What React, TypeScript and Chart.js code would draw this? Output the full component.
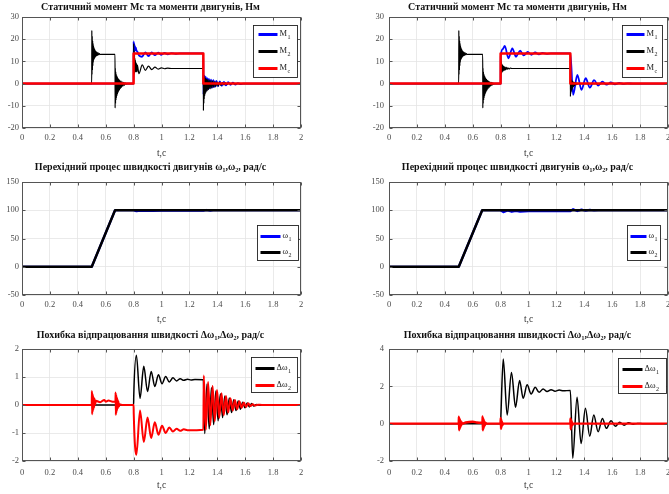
import React, { useEffect, useRef } from "react";
import { Chart, registerables } from "chart.js";
Chart.register(...registerables);

type P = [number, number];

// ---------- axes / text ----------
const xTickValues = [0, 0.2, 0.4, 0.6, 0.8, 1, 1.2, 1.4, 1.6, 1.8, 2];
const yTicksTorque = [-20, -10, 0, 10, 20, 30];
const yTicksSpeed = [-50, 0, 50, 100, 150];
const yTicksErrLeft = [-2, -1, 0, 1, 2];
const yTicksErrRight = [-2, 0, 2, 4];

const titleTorque = "Статичний момент Мс та моменти двигунів, Нм";
const titleSpeed = "Перехідний процес швидкості двигунів ω₁,ω₂, рад/с";
const titleErr = "Похибка відпрацювання швидкості Δω₁,Δω₂, рад/с";
const xAxisLabel = "t,c";

const legendTorque: [string, string][] = [["M", "1"], ["M", "2"], ["M", "c"]];
const legendSpeed: [string, string][] = [["ω", "1"], ["ω", "2"]];
const legendErr: [string, string][] = [["Δω", "1"], ["Δω", "2"]];

// ---------- row 1 : torques ----------
const mcLeft: P[] = [[0, 0], [0.8, 0], [0.8, 13.6], [1.3, 13.6], [1.3, 0], [2, 0]];
const mcRight: P[] = [[0, 0], [0.8, 0], [0.8, 13.6], [1.3, 13.6], [1.3, 0], [2, 0]];

const m1Left: P[] = [
  [0, 0], [0.8, 0], [0.8005, 19], [0.802, 14], [0.8035, 18.2], [0.805, 14.5], [0.807, 17.4], [0.809, 14.8],
  [0.811, 16.8], [0.813, 15], [0.816, 16.2], [0.82, 15], [0.828, 14.3], [0.84, 12.6], [0.86, 12.1],
  [0.884, 14.1], [0.907, 12.4], [0.93, 14], [0.953, 12.8], [0.976, 13.9], [0.999, 13], [1.022, 13.8],
  [1.045, 13.2], [1.07, 13.7], [1.1, 13.45], [1.13, 13.6], [1.3, 13.6],
  [1.301, -5], [1.304, 4], [1.307, -4.2], [1.31, 3.5], [1.314, -3.6], [1.318, 3], [1.323, -3], [1.328, 2.5],
  [1.334, -2.5], [1.34, 2.1], [1.347, -2.1], [1.355, 1.8], [1.363, -1.8], [1.372, 1.5], [1.382, -1.5],
  [1.393, 1.2], [1.405, -1.2], [1.418, 1], [1.432, -1], [1.447, 0.8], [1.462, -0.8], [1.478, 0.6],
  [1.495, -0.6], [1.512, 0.4], [1.53, -0.4], [1.548, 0.2], [1.566, -0.2], [1.585, 0], [2, 0],
];
const m2Left: P[] = [
  [0, 0], [0.5, 0], [0.5005, 24], [0.502, 4], [0.5035, 21.5], [0.505, 6], [0.5065, 19.5], [0.508, 8],
  [0.5095, 18.2], [0.511, 9.5], [0.5125, 17.2], [0.514, 10.5], [0.5155, 16.4], [0.517, 11], [0.519, 15.8],
  [0.521, 11.5], [0.523, 15.2], [0.525, 11.9], [0.527, 14.8], [0.529, 12.2], [0.532, 14.4], [0.535, 12.5],
  [0.538, 14.1], [0.541, 12.7], [0.545, 13.8], [0.55, 12.9], [0.555, 13.5], [0.56, 13.1], [0.58, 13.2],
  [0.667, 13.2], [0.6675, -11], [0.669, 7], [0.6705, -9], [0.672, 5.5], [0.6735, -7.5], [0.675, 4.5],
  [0.6765, -6.5], [0.678, 3.8], [0.68, -5.6], [0.682, 3.2], [0.684, -4.8], [0.686, 2.7], [0.688, -4.1],
  [0.69, 2.2], [0.693, -3.4], [0.696, 1.8], [0.699, -2.8], [0.702, 1.4], [0.706, -2.2], [0.71, 1.1],
  [0.714, -1.7], [0.718, 0.8], [0.723, -1.2], [0.728, 0.6], [0.733, -0.8], [0.738, 0.3], [0.745, -0.3],
  [0.75, 0], [0.8, 0],
  [0.8005, 18], [0.802, 4], [0.8035, 15], [0.805, 4.5], [0.8065, 13], [0.808, 5], [0.8095, 11.5],
  [0.811, 5.2], [0.813, 10.5], [0.815, 5.5], [0.817, 9.5], [0.819, 5.5], [0.821, 9], [0.824, 5.3],
  [0.827, 8.3], [0.838, 4.5], [0.862, 8.4], [0.884, 6], [0.907, 7.9], [0.93, 6.3], [0.953, 7.4],
  [0.976, 6.5], [0.999, 7.1], [1.022, 6.7], [1.045, 6.95], [1.07, 6.8], [1.3, 6.8],
  [1.3005, -12.2], [1.302, 4], [1.3035, -9], [1.305, 3.5], [1.3065, -7], [1.308, 3], [1.31, -5.5],
  [1.312, 2.6], [1.314, -4.5], [1.317, 2.3], [1.32, -3.8], [1.324, 2], [1.328, -3.2], [1.332, 1.8],
  [1.337, -2.7], [1.342, 1.6], [1.348, -2.3], [1.354, 1.4], [1.36, -2], [1.367, 1.2], [1.374, -1.7],
  [1.382, 1], [1.39, -1.4], [1.398, 0.8], [1.407, -1.1], [1.416, 0.6], [1.426, -0.8], [1.436, 0.45],
  [1.447, -0.55], [1.458, 0.3], [1.47, -0.35], [1.483, 0.2], [1.496, -0.2], [1.51, 0.1], [1.525, -0.1],
  [1.54, 0], [2, 0],
];
const m1Right: P[] = [
  [0, 0], [0.8, 0], [0.801, 12], [0.815, 15.5], [0.83, 17], [0.856, 11.4], [0.884, 15.9], [0.91, 12.1],
  [0.94, 14.8], [0.966, 12.7], [0.995, 14.3], [1.02, 13], [1.048, 14], [1.075, 13.2], [1.1, 13.8],
  [1.13, 13.4], [1.16, 13.65], [1.2, 13.6], [1.3, 13.6],
  [1.32, -5.1], [1.35, 3.9], [1.38, -2.8], [1.41, 2.4], [1.44, -1.8], [1.47, 1.6], [1.5, -0.9],
  [1.53, 0.9], [1.56, -0.5], [1.59, 0.5], [1.62, -0.3], [1.65, 0.3], [1.68, -0.15], [1.71, 0.1],
  [1.75, 0], [2, 0],
];
const m2Right: P[] = [
  [0, 0], [0.5, 0], [0.5005, 24], [0.502, 4], [0.5035, 21.5], [0.505, 6], [0.5065, 19.5], [0.508, 8],
  [0.5095, 18.2], [0.511, 9.5], [0.5125, 17.2], [0.514, 10.5], [0.5155, 16.4], [0.517, 11], [0.519, 15.8],
  [0.521, 11.5], [0.523, 15.2], [0.525, 11.9], [0.527, 14.8], [0.529, 12.2], [0.532, 14.4], [0.535, 12.5],
  [0.538, 14.1], [0.541, 12.7], [0.545, 13.8], [0.55, 12.9], [0.555, 13.5], [0.56, 13.1], [0.58, 13.2],
  [0.672, 13.2], [0.6725, -11], [0.674, 7], [0.6755, -9], [0.677, 5.5], [0.6785, -7.5], [0.68, 4.5],
  [0.6815, -6.5], [0.683, 3.8], [0.685, -5.6], [0.687, 3.2], [0.689, -4.8], [0.691, 2.7], [0.693, -4.1],
  [0.695, 2.2], [0.698, -3.4], [0.701, 1.8], [0.704, -2.8], [0.707, 1.4], [0.711, -2.2], [0.715, 1.1],
  [0.719, -1.7], [0.723, 0.8], [0.728, -1.2], [0.733, 0.6], [0.738, -0.8], [0.743, 0.3], [0.75, -0.3],
  [0.755, 0], [0.8, 0],
  [0.8005, 11], [0.802, 4], [0.8035, 10], [0.805, 4.5], [0.807, 9.2], [0.809, 5], [0.811, 8.6],
  [0.813, 5.4], [0.816, 8.2], [0.819, 5.7], [0.822, 7.8], [0.826, 6], [0.83, 7.5], [0.835, 6.2],
  [0.84, 7.3], [0.846, 6.4], [0.852, 7.1], [0.86, 6.6], [0.87, 7], [0.88, 6.8], [1.3, 6.8],
  [1.3005, -5.8], [1.302, 2.5], [1.3035, -4.5], [1.305, 2], [1.307, -3.6], [1.309, 1.6], [1.311, -2.8],
  [1.313, 1.2], [1.316, -2], [1.319, 0.9], [1.322, -1.4], [1.326, 0.6], [1.33, -0.9], [1.335, 0.4],
  [1.34, -0.5], [1.346, 0.2], [1.352, -0.2], [1.36, 0], [2, 0],
];

// ---------- row 2 : speeds ----------
const w2Left: P[] = [[0, 0], [0.5, 0], [0.667, 100], [2, 100]];
const w1Left: P[] = [
  [0, 0], [0.5, 0], [0.667, 100], [0.8, 100], [0.82, 98.2], [0.85, 99.3], [0.88, 98.7], [0.91, 99.2],
  [0.94, 98.9], [1.0, 99.1], [1.3, 99.1], [1.32, 100.5], [1.35, 99.4], [1.38, 100.4], [1.41, 100], [2, 100],
];
const w2Right: P[] = [[0, 0], [0.5, 0], [0.668, 100], [2, 100]];
const w1Right: P[] = [
  [0, 0], [0.5, 0], [0.668, 100], [0.8, 100], [0.82, 96.6], [0.85, 99.5], [0.88, 97.3], [0.91, 99],
  [0.94, 97.7], [1.0, 98.3], [1.3, 98.3], [1.32, 101.8], [1.35, 98.6], [1.38, 101.1], [1.41, 99.2],
  [1.44, 100.7], [1.47, 99.6], [1.5, 100], [2, 100],
];

// ---------- row 3 : speed errors ----------
const dw1Left: P[] = [
  [0, 0], [0.8, 0], [0.801, 0.3], [0.82, 1.78], [0.846, 0.24], [0.873, 1.38], [0.9, 0.48], [0.926, 1.2],
  [0.952, 0.66], [0.978, 1.08], [1.004, 0.76], [1.03, 1.02], [1.056, 0.82], [1.082, 0.97], [1.108, 0.86],
  [1.134, 0.94], [1.16, 0.88], [1.186, 0.92], [1.212, 0.89], [1.24, 0.91], [1.3, 0.9],
  [1.31, -1.02], [1.326, 0.75], [1.342, -0.85], [1.358, 0.62], [1.374, -0.7], [1.39, 0.5], [1.406, -0.56],
  [1.422, 0.4], [1.438, -0.45], [1.454, 0.32], [1.47, -0.35], [1.486, 0.25], [1.502, -0.27], [1.518, 0.19],
  [1.534, -0.2], [1.55, 0.14], [1.566, -0.15], [1.582, 0.1], [1.598, -0.1], [1.614, 0.07], [1.63, -0.07],
  [1.646, 0.05], [1.662, -0.04], [1.68, 0.02], [1.7, -0.01], [1.72, 0], [2, 0],
];
const dw2Left: P[] = [
  [0, 0], [0.5, 0], [0.501, 0.5], [0.503, -0.33], [0.505, 0.42], [0.507, -0.25], [0.509, 0.35],
  [0.511, -0.18], [0.514, 0.28], [0.517, -0.1], [0.52, 0.22], [0.524, 0.02], [0.53, 0.15], [0.56, 0.1],
  [0.59, 0.18], [0.6, 0.12], [0.62, 0.16], [0.65, 0.12], [0.67, 0.12], [0.671, 0.45], [0.673, -0.36],
  [0.675, 0.38], [0.677, -0.28], [0.679, 0.3], [0.681, -0.2], [0.684, 0.22], [0.687, -0.12], [0.69, 0.14],
  [0.695, -0.05], [0.7, 0.03], [0.72, 0], [0.8, 0],
  [0.801, -0.3], [0.82, -1.78], [0.846, -0.2], [0.873, -1.32], [0.9, -0.45], [0.926, -1.18], [0.952, -0.62],
  [0.978, -1.06], [1.004, -0.74], [1.03, -1.0], [1.056, -0.8], [1.082, -0.95], [1.108, -0.85], [1.134, -0.92],
  [1.16, -0.87], [1.186, -0.9], [1.3, -0.88],
  [1.303, 1.05], [1.318, -0.88], [1.334, 0.82], [1.35, -0.72], [1.366, 0.68], [1.382, -0.58], [1.398, 0.54],
  [1.414, -0.46], [1.43, 0.42], [1.446, -0.36], [1.462, 0.32], [1.478, -0.27], [1.494, 0.24], [1.51, -0.2],
  [1.526, 0.18], [1.542, -0.15], [1.558, 0.13], [1.574, -0.1], [1.59, 0.09], [1.606, -0.07], [1.622, 0.06],
  [1.638, -0.04], [1.654, 0.03], [1.67, -0.02], [1.69, 0.01], [1.72, 0], [2, 0],
];
const dw1Right: P[] = [
  [0, 0], [0.8, 0], [0.801, 0.2], [0.819, 3.46], [0.847, 0.46], [0.878, 2.74], [0.907, 0.88], [0.936, 2.31],
  [0.962, 1.36], [0.99, 2.08], [1.019, 1.59], [1.048, 1.95], [1.076, 1.68], [1.105, 1.86], [1.133, 1.72],
  [1.162, 1.82], [1.19, 1.74], [1.22, 1.8], [1.25, 1.76], [1.3, 1.78],
  [1.317, -1.85], [1.348, 1.41], [1.377, -1.06], [1.408, 0.82], [1.439, -0.67], [1.468, 0.46], [1.499, -0.43],
  [1.53, 0.28], [1.558, -0.25], [1.592, 0.15], [1.623, -0.14], [1.654, 0.08], [1.686, -0.08], [1.718, 0.05],
  [1.75, -0.03], [1.78, 0.01], [1.82, 0], [2, 0],
];
const dw2Right: P[] = [
  [0, 0], [0.5, 0], [0.501, 0.37], [0.503, -0.35], [0.505, 0.3], [0.507, -0.28], [0.509, 0.22], [0.511, -0.2],
  [0.514, 0.15], [0.517, -0.12], [0.52, 0.08], [0.525, 0], [0.55, 0.06], [0.6, 0.1], [0.63, 0.06], [0.67, 0.05],
  [0.671, 0.38], [0.673, -0.36], [0.675, 0.3], [0.677, -0.28], [0.679, 0.22], [0.681, -0.18], [0.684, 0.12],
  [0.687, -0.1], [0.69, 0.05], [0.7, 0], [0.8, 0], [0.801, 0.3], [0.803, -0.28], [0.805, 0.22], [0.807, -0.18],
  [0.81, 0.1], [0.814, -0.06], [0.82, 0], [1.3, 0], [1.301, 0.28], [1.303, -0.3], [1.305, 0.22], [1.307, -0.2],
  [1.31, 0.12], [1.314, -0.08], [1.32, 0], [2, 0],
];

// ---------- styling / layout ----------
const SERIF = "'Liberation Serif', 'Times New Roman', serif";
const TICK_COLOR = "#4a4a4a";
const GRID_COLOR = "#e4e4e4";
const BLUE = "#0000ff";
const BLACK = "#000000";
const RED = "#ff0000";

type Series = { data: P[]; color: string; width: number; smooth: boolean };
type LegendCfg = { dx: number; dy: number; w: number; h: number; rowY: number[]; lx0: number; lx1: number; tx: number; labels: [string, string][] };
type PanelCfg = {
  left: number; plotW: number; top: number; titleH: number; plotH: number; xAxisH: number;
  xPad: number; yPad: number; title: string; yMin: number; yMax: number; yTicks: number[];
  series: Series[]; legend: LegendCfg;
};

const COLS = [22, 389];
const PLOT_W = 279;
const TITLE_SIZE = 10;
const ROWS = [
  { top: 0, titleH: 17, plotH: 111, xAxisH: 31, xPad: 5 },
  { top: 160, titleH: 22, plotH: 113, xAxisH: 30, xPad: 5 },
  { top: 328, titleH: 21, plotH: 112, xAxisH: 30, xPad: 7 },
];

const panels: PanelCfg[] = [
  {
    ...ROWS[0], left: COLS[0], plotW: PLOT_W, yPad: 3, title: titleTorque, yMin: -20, yMax: 30, yTicks: yTicksTorque,
    series: [
      { data: m1Left, color: BLUE, width: 1.8, smooth: true },
      { data: m2Left, color: BLACK, width: 1.2, smooth: true },
      { data: mcLeft, color: RED, width: 2.5, smooth: false },
    ],
    legend: { dx: 48, dy: 8, w: 44, h: 52, rowY: [9, 26, 43], lx0: 5, lx1: 24, tx: 26, labels: legendTorque },
  },
  {
    ...ROWS[0], left: COLS[1], plotW: PLOT_W, yPad: 5, title: titleTorque, yMin: -20, yMax: 30, yTicks: yTicksTorque,
    series: [
      { data: m1Right, color: BLUE, width: 1.8, smooth: true },
      { data: m2Right, color: BLACK, width: 1.2, smooth: true },
      { data: mcRight, color: RED, width: 2.5, smooth: false },
    ],
    legend: { dx: 46, dy: 8, w: 40, h: 52, rowY: [9, 26, 43], lx0: 4, lx1: 22, tx: 24, labels: legendTorque },
  },
  {
    ...ROWS[1], left: COLS[0], plotW: PLOT_W, yPad: 3, title: titleSpeed, yMin: -50, yMax: 150, yTicks: yTicksSpeed,
    series: [
      { data: w1Left, color: BLUE, width: 2.2, smooth: false },
      { data: w2Left, color: BLACK, width: 2.5, smooth: false },
    ],
    legend: { dx: 44, dy: 43, w: 41, h: 35, rowY: [11, 27], lx0: 3, lx1: 23, tx: 25, labels: legendSpeed },
  },
  {
    ...ROWS[1], left: COLS[1], plotW: PLOT_W, yPad: 5, title: titleSpeed, yMin: -50, yMax: 150, yTicks: yTicksSpeed,
    series: [
      { data: w1Right, color: BLUE, width: 2.2, smooth: false },
      { data: w2Right, color: BLACK, width: 2.5, smooth: false },
    ],
    legend: { dx: 41, dy: 43, w: 33, h: 35, rowY: [11, 27], lx0: 3, lx1: 19, tx: 21, labels: legendSpeed },
  },
  {
    ...ROWS[2], left: COLS[0], plotW: PLOT_W, yPad: 3, title: titleErr, yMin: -2, yMax: 2, yTicks: yTicksErrLeft,
    series: [
      { data: dw1Left, color: BLACK, width: 1.5, smooth: true },
      { data: dw2Left, color: RED, width: 2, smooth: true },
    ],
    legend: { dx: 50, dy: 8, w: 46, h: 35, rowY: [11, 28], lx0: 4, lx1: 23, tx: 25, labels: legendErr },
  },
  {
    ...ROWS[2], left: COLS[1], plotW: PLOT_W, yPad: 5, title: titleErr, yMin: -2, yMax: 4, yTicks: yTicksErrRight,
    series: [
      { data: dw1Right, color: BLACK, width: 1.5, smooth: true },
      { data: dw2Right, color: RED, width: 2.4, smooth: true },
    ],
    legend: { dx: 50, dy: 9, w: 48, h: 35, rowY: [11, 28], lx0: 4, lx1: 24, tx: 26, labels: legendErr },
  },
];

const MARGIN = 22;

const framePlugin = {
  id: "matlabFrame",
  afterDraw(chart: any) {
    const { ctx, chartArea: a, scales } = chart;
    ctx.save();
    ctx.strokeStyle = "#555";
    ctx.lineWidth = 1;
    const l = Math.round(a.left) + 0.5, r = Math.round(a.right) - 0.5;
    const t = Math.round(a.top) + 0.5, b = Math.round(a.bottom) - 0.5;
    ctx.strokeRect(l, t, r - l, b - t);
    ctx.beginPath();
    const tl = 3;
    scales.x.ticks.forEach((tk: any) => {
      const px = Math.round(scales.x.getPixelForValue(tk.value)) + 0.5;
      ctx.moveTo(px, b); ctx.lineTo(px, b - tl);
      ctx.moveTo(px, t); ctx.lineTo(px, t + tl);
    });
    scales.y.ticks.forEach((tk: any) => {
      const py = Math.round(scales.y.getPixelForValue(tk.value)) + 0.5;
      ctx.moveTo(l, py); ctx.lineTo(l + tl, py);
      ctx.moveTo(r, py); ctx.lineTo(r - tl, py);
    });
    ctx.stroke();
    ctx.restore();
  },
};

function makeLegendPlugin(cfg: LegendCfg, series: Series[]) {
  return {
    id: "boxLegend",
    afterDraw(chart: any) {
      const { ctx, chartArea: a } = chart;
      const x = Math.round(a.right - cfg.dx) + 0.5;
      const y = Math.round(a.top + cfg.dy) + 0.5;
      ctx.save();
      ctx.fillStyle = "#ffffff";
      ctx.fillRect(x, y, cfg.w, cfg.h);
      ctx.strokeStyle = "#222";
      ctx.lineWidth = 0.9;
      ctx.strokeRect(x, y, cfg.w, cfg.h);
      cfg.labels.forEach(([main, sub], i) => {
        const ry = y + cfg.rowY[i];
        const s = series[i];
        ctx.strokeStyle = s.color;
        ctx.lineWidth = 3;
        ctx.beginPath();
        ctx.moveTo(x + cfg.lx0, ry);
        ctx.lineTo(x + cfg.lx1, ry);
        ctx.stroke();
        ctx.fillStyle = "#222";
        ctx.textBaseline = "middle";
        ctx.textAlign = "left";
        ctx.font = `8.5px ${SERIF}`;
        ctx.fillText(main, x + cfg.tx, ry - 1);
        const mw = ctx.measureText(main).width;
        ctx.font = `6px ${SERIF}`;
        ctx.fillText(sub, x + cfg.tx + mw + 0.5, ry + 2.5);
      });
      ctx.restore();
    },
  };
}

function Panel({ cfg }: { cfg: PanelCfg }) {
  const ref = useRef<HTMLCanvasElement>(null);
  const width = cfg.plotW + 2 * MARGIN;
  const height = cfg.titleH + cfg.plotH + cfg.xAxisH;
  useEffect(() => {
    const canvas = ref.current;
    if (!canvas) return;
    const n = cfg.series.length;
    const tickFont = { family: SERIF, size: 8.5 };
    const titleLine = TITLE_SIZE * 1.2;
    const chart = new Chart(canvas, {
      type: "line",
      data: {
        datasets: cfg.series.map((s, i) => ({
          data: s.data.map(([x, y]) => ({ x, y })),
          borderColor: s.color,
          backgroundColor: s.color,
          borderWidth: s.width,
          pointRadius: 0,
          fill: false,
          tension: s.smooth ? 0.4 : 0,
          cubicInterpolationMode: s.smooth ? "monotone" : "default",
          borderJoinStyle: "round",
          order: n - i,
        })) as any,
      },
      options: {
        responsive: false,
        animation: false,
        events: [],
        devicePixelRatio: 1,
        layout: { padding: { left: 0, right: MARGIN, top: 0, bottom: 0 } },
        plugins: {
          legend: { display: false },
          tooltip: { enabled: false },
          title: {
            display: true,
            text: cfg.title,
            color: "#111",
            font: { family: SERIF, size: TITLE_SIZE, weight: "bold" },
            padding: { top: 1, bottom: cfg.titleH - titleLine - 1 },
          },
        },
        scales: {
          x: {
            type: "linear",
            min: 0,
            max: 2,
            afterBuildTicks: (s: any) => { s.ticks = xTickValues.map((v) => ({ value: v })); },
            afterFit: (s: any) => { s.height = cfg.xAxisH; },
            ticks: {
              autoSkip: false, maxRotation: 0, padding: cfg.xPad, color: TICK_COLOR, font: tickFont,
              callback: (v: any) => String(Math.round(Number(v) * 10) / 10),
            },
            grid: { color: GRID_COLOR, lineWidth: 0.8, drawTicks: false },
            border: { display: false },
            title: {
              display: true, text: xAxisLabel, color: "#333",
              font: { family: SERIF, size: 9.5 }, padding: { top: 0, bottom: 0 },
            },
          },
          y: {
            type: "linear",
            min: cfg.yMin,
            max: cfg.yMax,
            afterBuildTicks: (s: any) => { s.ticks = cfg.yTicks.map((v) => ({ value: v })); },
            afterFit: (s: any) => { s.width = MARGIN; },
            ticks: { padding: cfg.yPad, color: TICK_COLOR, font: tickFont, callback: (v: any) => String(v) },
            grid: { color: GRID_COLOR, lineWidth: 0.8, drawTicks: false },
            border: { display: false },
          },
        },
      } as any,
      plugins: [framePlugin, makeLegendPlugin(cfg.legend, cfg.series)],
    });
    return () => chart.destroy();
  }, []);
  return (
    <canvas
      ref={ref}
      width={width}
      height={height}
      style={{ position: "absolute", left: cfg.left - MARGIN, top: cfg.top, width, height, display: "block" }}
    />
  );
}

export default function App() {
  return (
    <div
      style={{
        position: "absolute", left: 0, top: 0, width: 669, height: 494,
        background: "#ffffff", overflow: "hidden",
      }}
    >
      {panels.map((p, i) => (
        <Panel key={i} cfg={p} />
      ))}
    </div>
  );
}
